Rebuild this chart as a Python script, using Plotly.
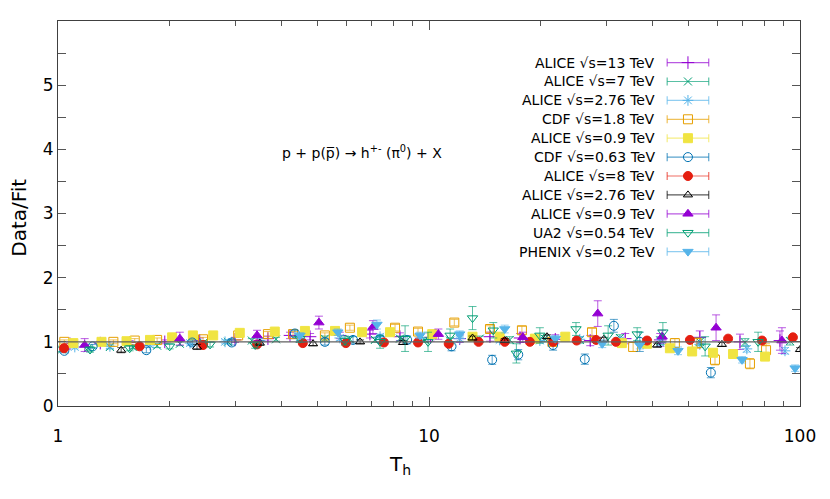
import plotly.graph_objects as go

# ---------------- data ----------------
series_names = [
    "ALICE √s=13 TeV", "ALICE √s=7 TeV", "ALICE √s=2.76 TeV", "CDF √s=1.8 TeV",
    "ALICE √s=0.9 TeV", "CDF √s=0.63 TeV", "ALICE √s=8 TeV", "ALICE √s=2.76 TeV",
    "ALICE √s=0.9 TeV", "UA2 √s=0.54 TeV", "PHENIX √s=0.2 TeV",
]

alice13_x = [1.077, 1.30, 1.56, 1.94, 2.41, 3.00, 3.68, 4.22, 4.78, 5.75, 6.93, 8.35, 10.1, 12.1,
             14.6, 17.6, 21.9, 27.2, 33.8, 42.0, 53.7, 68.9, 88.3]
alice13_y = [0.97, 0.98, 0.99, 1.0, 1.02, 1.03, 1.05, 1.1, 1.08, 1.1, 1.12, 1.08, 1.07, 1.05,
             1.08, 1.06, 1.04, 1.02, 1.05, 1.03, 1.07, 1.0, 1.02]
alice13_e = [0.03, 0.03, 0.03, 0.03, 0.04, 0.04, 0.04, 0.05, 0.05, 0.05, 0.06, 0.06, 0.06, 0.06,
             0.07, 0.07, 0.07, 0.08, 0.08, 0.1, 0.1, 0.12, 0.15]

alice7_x = [1.025, 1.205, 1.38, 1.59, 1.85, 2.13, 2.47, 2.87, 3.33, 3.87, 4.49, 5.24, 6.12, 7.15,
            8.35, 9.76, 11.4, 13.7, 16.5, 20.5, 25.5, 32.7, 42.0, 53.7, 71.1, 94.0]
alice7_y = [0.88, 0.9, 0.92, 0.92, 0.94, 0.97, 0.99, 1.0, 1.02, 1.04, 1.05, 1.05, 1.04, 1.03,
            1.05, 1.03, 1.02, 1.05, 1.03, 1.05, 1.03, 1.06, 1.02, 1.0, 0.99, 1.01]
alice7_e = [0.03, 0.03, 0.03, 0.03, 0.03, 0.03, 0.03, 0.03, 0.03, 0.03, 0.03, 0.04, 0.04, 0.04,
            0.04, 0.04, 0.04, 0.04, 0.05, 0.05, 0.05, 0.05, 0.06, 0.06, 0.06, 0.06]

alice276_x = [1.11, 1.38, 1.77, 2.27, 2.82, 3.50, 4.49, 5.75, 7.38, 9.46, 12.1, 15.5, 19.9, 25.5,
              32.7, 42.0, 53.7, 71.9, 91.1]
alice276_y = [0.92, 0.93, 0.95, 0.98, 1.0, 1.02, 1.05, 1.06, 1.08, 1.06, 1.05, 1.03, 1.02, 1.04,
              1.02, 0.99, 0.96, 0.89, 0.86]
alice276_e = [0.03, 0.03, 0.03, 0.03, 0.03, 0.03, 0.03, 0.04, 0.04, 0.04, 0.04, 0.04, 0.04, 0.04,
              0.05, 0.05, 0.05, 0.05, 0.05]

cdf18_x = [1.04, 1.41, 1.61, 1.85, 2.46, 3.06, 3.68, 4.30, 5.24, 6.12, 8.10, 9.34, 11.7, 14.6,
           17.8, 21.5, 27.5, 35.5, 46.0, 52.7, 59.0, 73.3, 81.0]
cdf18_y = [1.0, 1.0, 1.02, 1.03, 1.04, 1.1, 1.12, 1.12, 1.1, 1.22, 1.22, 1.16, 1.3, 1.2,
           1.18, 1.0, 1.15, 0.92, 0.98, 0.98, 0.72, 0.66, 0.87]
cdf18_e = [0.03, 0.03, 0.03, 0.03, 0.03, 0.03, 0.04, 0.04, 0.04, 0.04, 0.05, 0.05, 0.05, 0.05,
           0.06, 0.06, 0.06, 0.07, 0.07, 0.08, 0.08, 0.08, 0.1]

alice09sq_x = [1.10, 1.31, 1.53, 1.77, 2.03, 2.31, 2.62, 3.09, 3.84, 4.63, 5.58, 6.60, 7.85, 10.2,
               13.1, 15.5, 19.3, 23.3, 33.1, 38.7, 44.6, 51.2, 58.3, 66.0, 80.5]
alice09sq_y = [0.98, 1.0, 1.01, 1.03, 1.07, 1.1, 1.1, 1.14, 1.16, 1.17, 1.17, 1.15, 1.15, 1.12,
               1.08, 1.08, 1.05, 1.08, 0.98, 0.97, 0.9, 0.85, 0.83, 0.81, 0.77]
alice09sq_e = [0.02] * 25

cdf063_x = [1.04, 1.24, 1.73, 2.30, 2.94, 4.35, 5.24, 6.24, 7.38, 8.73, 11.5, 14.8, 17.4, 21.6,
            26.3, 31.5, 37.0, 57.5]
cdf063_y = [0.86, 0.93, 0.87, 0.99, 0.99, 1.13, 1.0, 1.03, 1.04, 1.03, 0.93, 0.72, 0.8, 0.95,
            0.73, 1.25, 1.0, 0.52]
cdf063_e = [0.03, 0.03, 0.04, 0.04, 0.04, 0.05, 0.05, 0.05, 0.05, 0.06, 0.07, 0.07, 0.08, 0.08,
            0.08, 0.1, 0.15, 0.08]

alice8_x = [1.038, 1.66, 2.46, 3.44, 4.57, 5.97, 7.56, 9.34, 11.3, 13.6, 16.0, 18.7, 21.6, 25.0,
            28.2, 31.9, 38.7, 50.5, 64.0, 79.0, 95.7]
alice8_y = [0.9, 0.93, 0.95, 0.96, 0.98, 0.98, 0.99, 0.99, 0.97, 1.0, 1.0, 1.0, 1.0, 1.02,
            1.03, 1.0, 1.02, 1.03, 1.05, 1.02, 1.07]
alice8_e = [0.02] * 21

alice276tri_x = [1.48, 2.37, 3.50, 4.87, 6.52, 8.51, 13.1, 16.0, 20.8, 29.6, 41.2, 61.6, 100.0]
alice276tri_y = [0.87, 0.92, 0.98, 0.97, 1.0, 0.99, 1.06, 1.02, 1.08, 1.04, 0.95, 0.96, 0.88]
alice276tri_e = [0.04, 0.04, 0.03, 0.03, 0.03, 0.03, 0.03, 0.03, 0.03, 0.03, 0.03, 0.03, 0.03]

alice09tri_x = [1.18, 2.13, 3.44, 5.05, 7.06, 10.6, 17.9, 28.5, 42.5, 59.4, 89.4]
alice09tri_y = [0.95, 1.05, 1.1, 1.3, 1.23, 1.12, 1.07, 1.44, 1.08, 1.22, 1.02]
alice09tri_e = [0.1, 0.1, 0.08, 0.1, 0.1, 0.08, 0.08, 0.2, 0.1, 0.2, 0.2]

ua2_x = [1.22, 1.56, 2.0, 2.57, 3.40, 4.49, 5.94, 7.38, 8.62, 9.94, 11.4, 13.1, 14.9, 17.2,
         19.9, 24.9, 30.4, 36.4, 42.7, 55.5, 77.1]
ua2_y = [0.88, 0.9, 0.93, 0.96, 0.95, 1.05, 1.02, 1.0, 1.05, 1.0, 1.1, 1.37, 1.18, 0.82,
         1.1, 1.2, 1.1, 1.12, 1.15, 0.93, 1.0]
ua2_e = [0.04, 0.04, 0.04, 0.04, 0.05, 0.06, 0.07, 0.1, 0.2, 0.15, 0.1, 0.18, 0.12, 0.15,
         0.12, 0.1, 0.15, 0.1, 0.15, 0.15, 0.15]

phenix_x = [4.49, 5.68, 7.24, 9.46, 12.1, 16.0, 21.9, 29.3, 37.0, 46.9, 69.8, 97.0]
phenix_y = [1.1, 1.15, 1.27, 1.1, 1.12, 1.2, 1.05, 0.97, 0.95, 0.86, 0.72, 0.59]
phenix_e = [0.04, 0.05, 0.07, 0.05, 0.05, 0.06, 0.05, 0.06, 0.06, 0.06, 0.05, 0.05]

reference_level = 1.0

x_tick_vals = [1, 10, 100]
x_tick_text = ["1", "10", "100"]
x_minor_vals = [2, 3, 4, 5, 6, 7, 8, 9, 20, 30, 40, 50, 60, 70, 80, 90]
y_tick_vals = [0, 1, 2, 3, 4, 5]
y_tick_text = ["0", "1", "2", "3", "4", "5"]

# ---------------- styles ----------------
colors = ["#9400d3", "#009e73", "#56b4e9", "#e69f00", "#f0e442", "#0072b2",
          "#e51e10", "#000000", "#9400d3", "#009e73", "#56b4e9"]
symbols = ["cross-thin-open", "x-thin-open", "asterisk-open", "square-open", "square",
           "circle-open", "circle", "triangle-up-open", "triangle-up",
           "triangle-down-open", "triangle-down"]
sizes = [9, 8, 9, 9, 9, 9, 9, 8, 9, 9, 9]

data = [
    (alice13_x, alice13_y, alice13_e),
    (alice7_x, alice7_y, alice7_e),
    (alice276_x, alice276_y, alice276_e),
    (cdf18_x, cdf18_y, cdf18_e),
    (alice09sq_x, alice09sq_y, alice09sq_e),
    (cdf063_x, cdf063_y, cdf063_e),
    (alice8_x, alice8_y, alice8_e),
    (alice276tri_x, alice276tri_y, alice276tri_e),
    (alice09tri_x, alice09tri_y, alice09tri_e),
    (ua2_x, ua2_y, ua2_e),
    (phenix_x, phenix_y, phenix_e),
]


def rgba(hexc, a):
    h = hexc.lstrip("#")
    r, g, b = int(h[0:2], 16), int(h[2:4], 16), int(h[4:6], 16)
    return f"rgba({r},{g},{b},{a})"


FONT = "DejaVu Sans"
fig = go.Figure()

for i, (xs, ys, es) in enumerate(data):
    fig.add_trace(go.Scatter(
        x=xs, y=ys, mode="markers", name=series_names[i], showlegend=False,
        marker=dict(symbol=symbols[i], size=sizes[i], color=colors[i],
                    line=dict(color=colors[i], width=1)),
        error_y=dict(type="data", array=es, visible=True, color=rgba(colors[i], 0.65),
                     thickness=1, width=4),
    ))

# reference line at Data/Fit = 1
fig.add_shape(type="line", xref="paper", x0=0, x1=1, yref="y",
              y0=reference_level, y1=reference_level,
              line=dict(color="#606060", width=1.1), layer="above")

# ---------------- gnuplot-style key (text left, sample right) ----------------
key_text_x = 0.807
key_x0, key_x1, key_xm = 0.821, 0.877, 0.849
key_y_top = 0.892
key_step = 0.0491
cap_half = 0.0105

for i, name in enumerate(series_names):
    yk = key_y_top - i * key_step
    fig.add_annotation(x=key_text_x, y=yk, xref="paper", yref="paper", text=name,
                       showarrow=False, xanchor="right", yanchor="middle",
                       font=dict(family=FONT, size=14, color="#000000"))
    lc = rgba(colors[i], 0.65)
    fig.add_shape(type="line", xref="paper", yref="paper", x0=key_x0, x1=key_x1,
                  y0=yk, y1=yk, line=dict(color=lc, width=1.2))
    for xc in (key_x0, key_x1):
        fig.add_shape(type="line", xref="paper", yref="paper", x0=xc, x1=xc,
                      y0=yk - cap_half, y1=yk + cap_half, line=dict(color=lc, width=1.2))
    fig.add_trace(go.Scatter(
        x=[key_xm], y=[yk], xaxis="x2", yaxis="y2", mode="markers", showlegend=False,
        hoverinfo="skip",
        marker=dict(symbol=symbols[i], size=sizes[i], color=colors[i],
                    line=dict(color=colors[i], width=1)),
    ))

# reaction label
fig.add_annotation(x=0.41, y=0.66, xref="paper", yref="paper",
                   text="p + p(p\u0305) \u2192 h<sup>+-</sup> (\u03c0<sup>0</sup>) + X",
                   showarrow=False, xanchor="center", yanchor="middle",
                   font=dict(family=FONT, size=14, color="#000000"))

# axis titles
fig.add_annotation(x=0.461, y=-0.153, xref="paper", yref="paper",
                   text="T<sub>h</sub>", showarrow=False, xanchor="center", yanchor="middle",
                   font=dict(family=FONT, size=20, color="#000000"))
fig.add_annotation(x=-0.052, y=0.49, xref="paper", yref="paper",
                   text="Data/Fit", showarrow=False, textangle=-90,
                   xanchor="center", yanchor="middle",
                   font=dict(family=FONT, size=20, color="#000000"))

fig.update_layout(
    width=830, height=499,
    margin=dict(l=50, r=38, t=13, b=101, autoexpand=False),
    paper_bgcolor="white", plot_bgcolor="white",
    font=dict(family=FONT, size=15, color="#000000"),
    showlegend=False,
    xaxis=dict(
        type="log", range=[0, 2], tickmode="array", tickvals=x_tick_vals, ticktext=x_tick_text,
        ticks="inside", ticklen=9, tickwidth=1, tickcolor="#555555",
        showline=True, linecolor="#404040", linewidth=1.2, mirror="allticks",
        showgrid=False, zeroline=False, tickfont=dict(size=17), automargin=False,
        ticklabelstandoff=14,
        minor=dict(ticks="inside", ticklen=5, tickcolor="#555555",
                   tickvals=x_minor_vals, showgrid=False),
    ),
    yaxis=dict(
        range=[0, 6], tickmode="array", tickvals=y_tick_vals, ticktext=y_tick_text,
        ticks="inside", ticklen=8, tickwidth=1, tickcolor="#555555",
        showline=True, linecolor="#404040", linewidth=1.2, mirror="allticks",
        showgrid=False, zeroline=False, tickfont=dict(size=17), automargin=False,
        minor=dict(ticks="inside", ticklen=8, tickcolor="#555555", dtick=0.5, showgrid=False),
    ),
    xaxis2=dict(overlaying="x", range=[0, 1], visible=False, anchor="y2"),
    yaxis2=dict(overlaying="y", range=[0, 1], visible=False, anchor="x2"),
)

fig.write_html("out.html")
